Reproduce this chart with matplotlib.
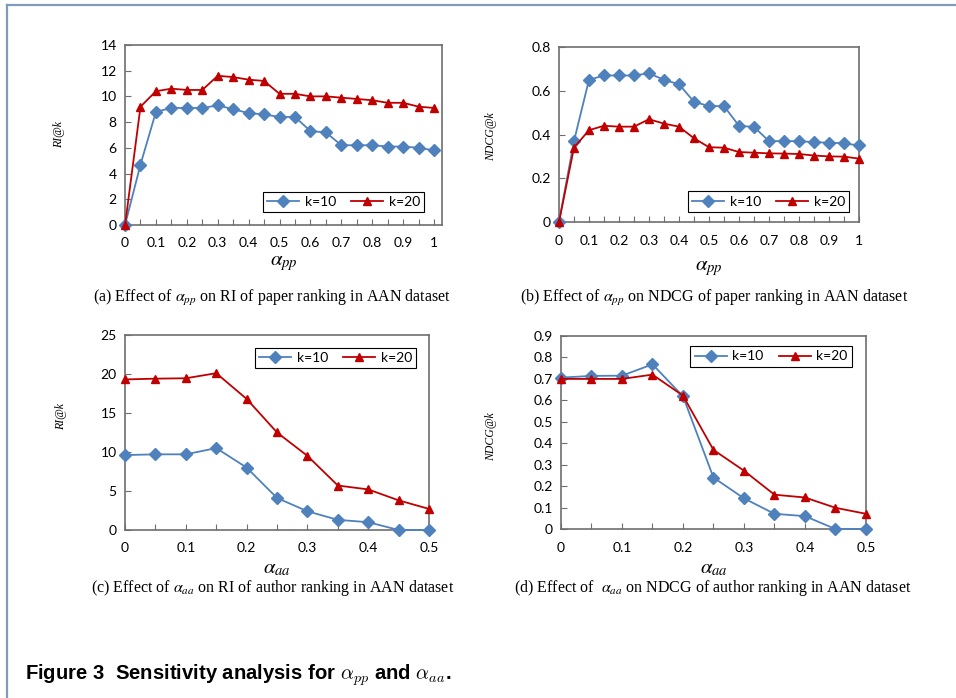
import matplotlib.pyplot as plt
from matplotlib.lines import Line2D
from matplotlib.ticker import FuncFormatter

# x categories
alpha_pp = [0, 0.05, 0.1, 0.15, 0.2, 0.25, 0.3, 0.35, 0.4, 0.45, 0.5,
            0.55, 0.6, 0.65, 0.7, 0.75, 0.8, 0.85, 0.9, 0.95, 1.0]
alpha_aa = [0, 0.05, 0.1, 0.15, 0.2, 0.25, 0.3, 0.35, 0.4, 0.45, 0.5]

# (a) RI@k vs alpha_pp
ri_pp_k10 = [0, 4.7, 8.8, 9.1, 9.1, 9.1, 9.3, 9.0, 8.7, 8.6, 8.4,
             8.4, 7.3, 7.2, 6.2, 6.2, 6.2, 6.1, 6.1, 6.0, 5.8]
ri_pp_k20 = [0, 9.2, 10.4, 10.6, 10.5, 10.5, 11.6, 11.5, 11.3, 11.2, 10.2,
             10.2, 10.0, 10.0, 9.9, 9.8, 9.7, 9.5, 9.5, 9.2, 9.1]

# (b) NDCG@k vs alpha_pp
ndcg_pp_k10 = [0, 0.37, 0.65, 0.67, 0.67, 0.67, 0.68, 0.65, 0.63, 0.55, 0.53,
               0.53, 0.44, 0.435, 0.37, 0.37, 0.37, 0.365, 0.363, 0.36, 0.35]
ndcg_pp_k20 = [0, 0.34, 0.42, 0.44, 0.436, 0.436, 0.47, 0.45, 0.436, 0.383, 0.342,
               0.34, 0.32, 0.317, 0.314, 0.313, 0.311, 0.304, 0.30, 0.299, 0.29]

# (c) RI@k vs alpha_aa
ri_aa_k10 = [9.6, 9.7, 9.7, 10.5, 8.0, 4.1, 2.4, 1.3, 1.0, 0, 0]
ri_aa_k20 = [19.3, 19.4, 19.45, 20.1, 16.8, 12.5, 9.5, 5.7, 5.2, 3.8, 2.7]

# (d) NDCG@k vs alpha_aa
ndcg_aa_k10 = [0.706, 0.714, 0.715, 0.768, 0.619, 0.24, 0.143, 0.071, 0.06, 0, 0]
ndcg_aa_k20 = [0.70, 0.70, 0.70, 0.72, 0.622, 0.369, 0.272, 0.16, 0.147, 0.099, 0.071]

series_labels = ['k=10', 'k=20']
captions = [
    r'(a) Effect of $\alpha_{pp}$ on RI of paper ranking in AAN dataset',
    r'(b) Effect of $\alpha_{pp}$ on NDCG of paper ranking in AAN dataset',
    r'(c) Effect of $\alpha_{aa}$ on RI of author ranking in AAN dataset',
    r'(d) Effect of  $\alpha_{aa}$ on NDCG of author ranking in AAN dataset',
]

BLUE = '#4f81bd'
RED = '#c00000'
SPINE = '#6e6e6e'
TICK_FONT = 'Lato'

fig = plt.figure(figsize=(9.56, 6.98), dpi=100)

# page frame (top and left edge)
fig.add_artist(Line2D([7 / 956, 1], [1 - 5 / 698, 1 - 5 / 698], color='#7f9cbf', lw=1.6))
fig.add_artist(Line2D([7 / 956, 7 / 956], [0, 1 - 5 / 698], color='#7f9cbf', lw=1.6))

panels = [
    # rect, x, k10, k20, xlim max, ylim, ystep, ylabel, ylabel pos, xlabel, xlabel y, legend center
    ([0.1308, 0.6777, 0.3316, 0.2579], alpha_pp, ri_pp_k10, ri_pp_k20, 1.026, 14, 2,
     'RI@k', (-0.19, 0.5), r'$\alpha_{pp}$', -0.21, (0.3593, 0.7106)),
    ([0.5847, 0.6819, 0.3138, 0.2507], alpha_pp, ndcg_pp_k10, ndcg_pp_k20, 1.0, 0.8, 0.2,
     'NDCG@k', (-0.207, 0.49), r'$\alpha_{pp}$', -0.26, (0.8039, 0.7113)),
    ([0.1308, 0.2407, 0.3180, 0.2794], alpha_aa, ri_aa_k10, ri_aa_k20, 0.5, 25, 5,
     'RI@k', (-0.19, 0.58), r'$\alpha_{aa}$', -0.195, (0.351, 0.4871)),
    ([0.5868, 0.2421, 0.3190, 0.2765], alpha_aa, ndcg_aa_k10, ndcg_aa_k20, 0.5, 0.9, 0.1,
     'NDCG@k', (-0.21, 0.477), r'$\alpha_{aa}$', -0.2, (0.8065, 0.4893)),
]

for rect, x, k10, k20, xmax, ymax, ystep, ylab, ylab_pos, xlab, xlab_y, leg_c in panels:
    ax = fig.add_axes(rect)
    ax.plot(x, k10, color=BLUE, lw=1.3, marker='D', ms=5.8, mfc=BLUE, mec=BLUE,
            label=series_labels[0], clip_on=False, zorder=3)
    ax.plot(x, k20, color=RED, lw=1.3, marker='^', ms=6.3, mfc=RED, mec=RED,
            label=series_labels[1], clip_on=False, zorder=3)

    ax.set_xlim(0, xmax)
    ax.set_ylim(0, ymax)

    # tick mark at every category, label every other one
    ax.set_xticks(x)
    ax.set_xticklabels(['%g' % v if i % 2 == 0 else '' for i, v in enumerate(x)])
    nt = int(round(ymax / ystep))
    ax.set_yticks([i * ystep for i in range(nt + 1)])
    ax.yaxis.set_major_formatter(FuncFormatter(lambda v, p: '%g' % round(v, 2)))

    ax.tick_params(direction='in', length=4, width=0.8, color=SPINE,
                   labelsize=10, pad=6)
    ax.tick_params(axis='x', pad=9)
    for lbl in ax.get_xticklabels() + ax.get_yticklabels():
        lbl.set_fontfamily(TICK_FONT)
    for s in ax.spines.values():
        s.set_color(SPINE)
        s.set_linewidth(1.2)

    ax.set_ylabel(ylab, family='Liberation Serif', style='italic', fontsize=8.5)
    ax.yaxis.set_label_coords(*ylab_pos)
    ax.text(0.5, xlab_y, xlab, transform=ax.transAxes, ha='center', va='center',
            fontsize=15, math_fontfamily='stix')

    leg = ax.legend(loc='center', bbox_to_anchor=leg_c, bbox_transform=fig.transFigure,
                    ncol=2, fancybox=False, framealpha=1, edgecolor='black',
                    handlelength=2.3, columnspacing=1.1, borderpad=0.3,
                    handletextpad=0.4, prop={'family': TICK_FONT, 'size': 10})
    leg.get_frame().set_linewidth(0.8)

# sub captions
cap_pos = [(272, 298), (714, 298), (273, 588), (713, 588)]
for (cx, cy), txt in zip(cap_pos, captions):
    fig.text(cx / 956, 1 - cy / 698, txt, ha='center', va='center',
             family='Liberation Serif', fontsize=11.5, math_fontfamily='stix')

# figure caption
fig.text(25 / 956, 1 - 675 / 698,
         r'Figure 3  Sensitivity analysis for $\alpha_{pp}$ and $\alpha_{aa}$.',
         ha='left', va='center', family='Liberation Sans', weight='bold',
         fontsize=14.6, math_fontfamily='cm')

plt.savefig('out.png', dpi=100)
